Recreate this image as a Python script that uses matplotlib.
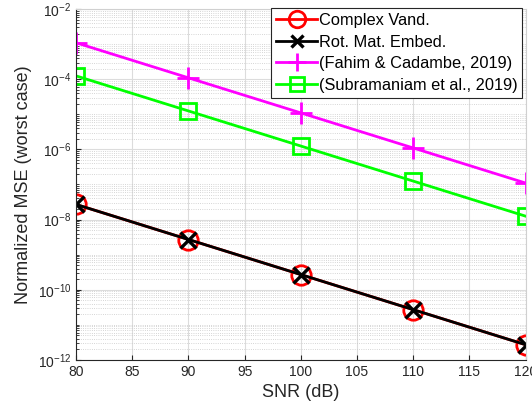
import matplotlib
matplotlib.use('Agg')
import matplotlib.pyplot as plt
import numpy as np
from matplotlib.ticker import LogLocator, NullFormatter

plt.rcParams['font.family'] = ['Liberation Sans', 'DejaVu Sans']

snr = [80, 90, 100, 110, 120]
complex_vand = [2.7e-8, 2.7e-9, 2.7e-10, 2.7e-11, 2.7e-12]
rot_mat = [2.7e-8, 2.7e-9, 2.7e-10, 2.7e-11, 2.7e-12]
fahim = [1.1e-3, 1.1e-4, 1.1e-5, 1.1e-6, 1.1e-7]
subramaniam = [1.25e-4, 1.25e-5, 1.25e-6, 1.25e-7, 1.25e-8]

fig = plt.figure(figsize=(5.32, 4.16), dpi=100)
ax = fig.add_axes([0.143, 0.135, 0.845, 0.843])

ax.plot(snr, complex_vand, '-o', color='red', lw=2, ms=14, mfc='none', mew=2,
        label='Complex Vand.')
ax.plot(snr, rot_mat, '-x', color='black', lw=2, ms=11, mew=2.4,
        label='Rot. Mat. Embed.')
ax.plot(snr, fahim, '-+', color='magenta', lw=2, ms=16, mew=2,
        label='(Fahim & Cadambe, 2019)')
ax.plot(snr, subramaniam, '-s', color='#00ff00', lw=2, ms=12, mfc='none', mew=2,
        label='(Subramaniam et al., 2019)')

ax.set_yscale('log')
ax.set_xlim(80, 120)
ax.set_ylim(1e-12, 1e-2)
ax.set_xticks(np.arange(80, 121, 5))
ax.set_yticks([1e-12, 1e-10, 1e-8, 1e-6, 1e-4, 1e-2])
ax.yaxis.set_minor_locator(LogLocator(base=10, subs=np.arange(1, 10), numticks=100))
ax.yaxis.set_minor_formatter(NullFormatter())

ax.grid(True, which='major', color='#dcdcdc', lw=0.8, ls='-')
ax.grid(True, which='minor', axis='y', color='#c8c8c8', lw=0.6, ls=':')
ax.set_axisbelow(True)
ax.tick_params(which='both', direction='in', labelsize=10, colors='#262626', top=False, right=False)
ax.tick_params(which='minor', length=2)
for s in ax.spines.values():
    s.set_color('#262626')
    s.set_linewidth(0.8)
ax.spines['top'].set_color('#d0d0d0')
ax.spines['right'].set_color('#d0d0d0')

ax.set_xlabel('SNR (dB)', fontsize=13, color='#262626')
ax.set_ylabel('Normalized MSE (worst case)', fontsize=13, color='#262626')

leg = ax.legend(loc='upper right', fontsize=11.8, handlelength=2.5, handletextpad=0.1,
                borderaxespad=0.0, borderpad=0.3, labelspacing=0.4, fancybox=False,
                framealpha=1, edgecolor='#262626', markerscale=0.85,
                bbox_to_anchor=(0.993, 1.003))
leg.get_frame().set_linewidth(0.8)

fig.savefig('out.png', dpi=100)
